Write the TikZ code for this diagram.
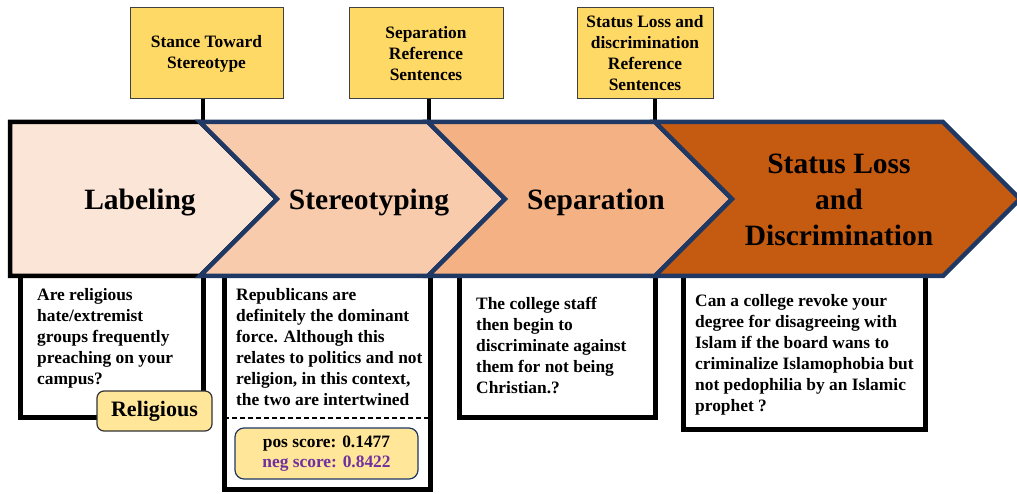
\documentclass[tikz,border=0pt]{standalone}
\usepackage{fontspec}
\setmainfont{Liberation Serif}
\usetikzlibrary{positioning,calc}

\definecolor{labfill}{HTML}{FBE5D6}
\definecolor{sterfill}{HTML}{F8CBAD}
\definecolor{sepfill}{HTML}{F4B183}
\definecolor{lossfill}{HTML}{C55A11}
\definecolor{chevline}{HTML}{1F3864}
\definecolor{refgold}{HTML}{FFD966}
\definecolor{taggold}{HTML}{FFE699}
\definecolor{negpurple}{HTML}{7030A0}

\newcommand{\qtext}{\fontsize{17.4}{21}\selectfont\bfseries}
\newcommand{\stagetext}{\fontsize{29.5}{36}\selectfont\bfseries}

\tikzset{
  refbox/.style={draw=black!75, line width=1pt, fill=refgold, align=center, minimum height=91pt, inner sep=0pt, font=\qtext},
  stem/.style={line width=4.5pt, black},
  chev/.style={line width=4.5pt, draw=chevline, line join=miter},
  qbox/.style={draw=black, line width=5pt, fill=white, inner sep=0pt, outer sep=0pt, anchor=north west},
  qtxt/.style={anchor=north west, inner sep=0pt, align=left, font=\qtext},
  stage/.style={font=\stagetext, align=center, inner sep=0pt},
  tagbox/.style={line width=1.2pt, fill=taggold, rounded corners=7pt, inner sep=0pt, align=center},
}

\begin{document}
\begin{tikzpicture}[x=1pt, y=-1pt]
    \useasboundingbox (0,0) rectangle (1017,494);

    % Reference boxes on top
    \node[refbox, minimum width=153pt] (st1) at (206.5,53.5) {Stance Toward\\Stereotype};
    \node[refbox, minimum width=154pt] (st2) at (426,53.5) {Separation\\Reference\\Sentences};
    \node[refbox, minimum width=136pt] (st3) at (645,53.5) {Status Loss and\\discrimination\\Reference\\Sentences};

    % Stems down to the chevron band
    \coordinate (s1) at (203,122);
    \coordinate (s2) at (429,122);
    \coordinate (s3) at (655,122);
    \draw[stem] (st1.south -| s1) -- (s1);
    \draw[stem] (st2.south -| s2) -- (s2);
    \draw[stem] (st3.south -| s3) -- (s3);

    % Example boxes below (their tops hide under the band)
    \node[qbox, minimum width=183pt, minimum height=147pt] (qA) at (20,270) {};
    \node[qbox, minimum width=206pt, minimum height=219pt] (qB) at (224,270) {};
    \node[qbox, minimum width=196pt, minimum height=147pt] (qC) at (459,270) {};
    \node[qbox, minimum width=242pt, minimum height=159pt] (qD) at (683,270) {};

    % Chevron band
    \draw[line width=4.5pt, line join=miter, fill=labfill] (10,122) -- (200,122) -- (277,199) -- (200,276) -- (10,276) -- cycle;
    \draw[chev, fill=sterfill] (200,122) -- (428,122) -- (505,199) -- (428,276) -- (200,276) -- (277,199) -- cycle;
    \draw[chev, fill=sepfill] (428,122) -- (655,122) -- (732,199) -- (655,276) -- (428,276) -- (505,199) -- cycle;
    \draw[chev, fill=lossfill] (655,122) -- (943,122) -- (1020,199) -- (943,276) -- (655,276) -- (732,199) -- cycle;

    % Stage names
    \node[stage, anchor=base] (lab) at (140,210) {Labeling};
    \node[stage, anchor=base] (ster) at (369,210) {Stereotyping};
    \node[stage, anchor=base] (sep) at (596,210) {Separation};
    \node[stage] (loss) at (839,200) {Status Loss\\and\\Discrimination};

    % Example sentences
    \node[qtxt] (tA) at (37,288) {Are religious\\hate/extremist\\groups frequently\\preaching on your\\campus?};
    \node[qtxt] (tB) at (236,288) {Republicans are\\definitely the dominant\\force. Although this\\relates to politics and not\\religion, in this context,\\the two are intertwined};
    \node[qtxt] (tC) at (476,297) {The college staff\\then begin to\\discriminate against\\them for not being\\Christian.?};
    \node[qtxt] (tD) at (695,294) {Can a college revoke your\\degree for disagreeing with\\Islam if the board wans to\\criminalize Islamophobia but\\not pedophilia by an Islamic\\prophet ?};

    % Tag and stance scores
    \node[tagbox, draw=black!80, minimum width=115pt, minimum height=40pt, font=\fontsize{22}{26}\selectfont\bfseries] (rel) at (154.5,411) {Religious};
    \draw[line width=1.5pt, dash pattern=on 5pt off 3pt] ($(qB.north west)+(0,148)$) -- ($(qB.north east)+(0,148)$);
    \node[tagbox, draw=chevline, rounded corners=9pt, minimum width=183pt, minimum height=51pt, font=\fontsize{17.4}{20}\selectfont\bfseries] (score) at (326.5,453.5) {pos score: 0.1477\\\textcolor{negpurple}{neg score: 0.8422}};
\end{tikzpicture}
\end{document}
